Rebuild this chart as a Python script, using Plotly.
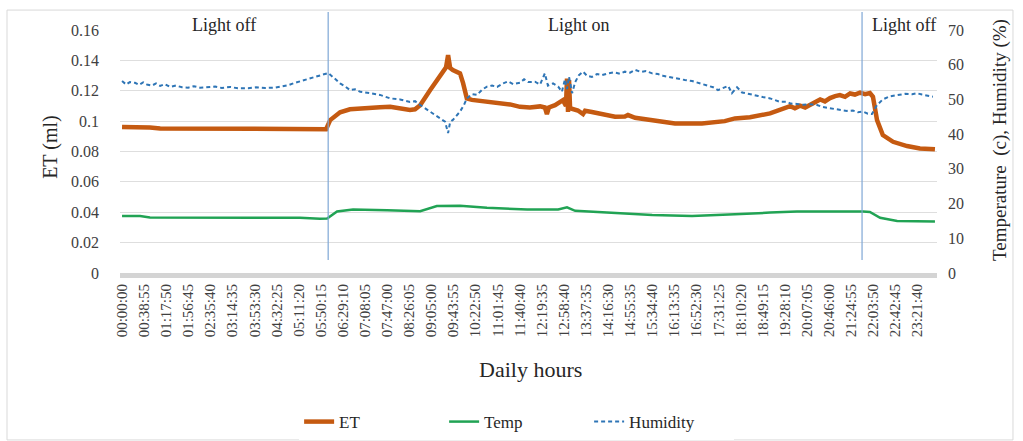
import plotly.graph_objects as go

# Tick labels on the time axis (one every 38 min 55 s of logging)
time_labels = [
    "00:00:00", "00:38:55", "01:17:50", "01:56:45", "02:35:40", "03:14:35",
    "03:53:30", "04:32:25", "05:11:20", "05:50:15", "06:29:10", "07:08:05",
    "07:47:00", "08:26:05", "09:05:00", "09:43:55", "10:22:50", "11:01:45",
    "11:40:40", "12:19:35", "12:58:40", "13:37:35", "14:16:30", "14:55:35",
    "15:34:40", "16:13:35", "16:52:30", "17:31:25", "18:10:20", "18:49:15",
    "19:28:10", "20:07:05", "20:46:00", "21:24:55", "22:03:50", "22:42:45",
    "23:21:40",
]
label_step_hours = 2335 / 3600

# Evapotranspiration (ml) against hour of day
et_hours = [
    0.00, 0.38, 0.82, 1.12, 2.29, 2.73, 3.46, 4.64, 5.22, 5.66, 5.99, 6.11,
    6.25, 6.40, 6.69, 6.99, 7.28, 7.57, 7.87, 8.16, 8.45, 8.60, 8.75, 9.04,
    9.33, 9.51, 9.57, 9.63, 9.71, 9.92, 10.01, 10.12, 10.27, 10.51, 10.80,
    11.09, 11.39, 11.68, 11.97, 12.27, 12.41, 12.47, 12.53, 12.71, 12.94,
    13.03, 13.06, 13.09, 13.12, 13.15, 13.38, 13.53, 13.59, 13.79, 14.03,
    14.47, 14.76, 14.85, 15.06, 15.73, 16.23, 17.02, 17.69, 17.99, 18.43,
    19.02, 19.31, 19.61, 19.75, 19.90, 20.05, 20.19, 20.34, 20.49, 20.63,
    20.78, 20.93, 21.07, 21.22, 21.37, 21.51, 21.66, 21.81, 21.95, 22.04,
    22.16, 22.33, 22.63, 23.04, 23.42, 23.86,
]
et_ml = [
    0.0962, 0.0963, 0.0958, 0.0952, 0.0951, 0.0950, 0.0949, 0.0949, 0.0948,
    0.0946, 0.0947, 0.1007, 0.1035, 0.1058, 0.1078, 0.1085, 0.1088, 0.1091,
    0.1094, 0.1084, 0.1073, 0.1078, 0.1105, 0.1204, 0.1303, 0.1354, 0.1434,
    0.1350, 0.1336, 0.1314, 0.1250, 0.1150, 0.1140, 0.1134, 0.1128, 0.1120,
    0.1110, 0.1094, 0.1090, 0.1097, 0.1090, 0.1046, 0.1090, 0.1105, 0.1138,
    0.1100, 0.1280, 0.1060, 0.1270, 0.1085, 0.1070, 0.1046, 0.1068, 0.1060,
    0.1048, 0.1029, 0.1030, 0.1040, 0.1022, 0.1002, 0.0985, 0.0985, 0.1000,
    0.1018, 0.1025, 0.1051, 0.1073, 0.1099, 0.1085, 0.1102, 0.1090, 0.1108,
    0.1125, 0.1143, 0.1130, 0.1152, 0.1165, 0.1171, 0.1160, 0.1182, 0.1175,
    0.1188, 0.1178, 0.1185, 0.1160, 0.1007, 0.0908, 0.0864, 0.0836, 0.0820,
    0.0814,
]

# Air temperature (°C)
temp_hours = [
    0.00, 0.53, 0.82, 2.29, 5.22, 5.81, 6.02, 6.31, 6.78, 7.78, 8.54, 8.75,
    9.24, 9.92, 10.71, 11.89, 12.80, 13.06, 13.30, 14.26, 15.56, 16.73,
    17.69, 17.99, 19.02, 19.81, 21.75, 21.95, 22.25, 22.75, 23.86,
]
temp_c = [
    16.4, 16.4, 16.0, 16.0, 15.9, 15.6, 15.7, 17.7, 18.3, 18.1, 17.7, 17.8,
    19.3, 19.4, 18.8, 18.3, 18.3, 18.9, 17.9, 17.4, 16.7, 16.4,
    16.7, 16.9, 17.4, 17.7, 17.7, 17.6, 15.9, 15.0, 14.8,
]

# Relative humidity (%)
hum_hours = [
    0.00, 0.12, 0.23, 0.38, 0.50, 0.62, 0.73, 0.88, 1.00, 1.12, 1.26, 1.41,
    1.58, 1.76, 1.94, 2.11, 2.29, 2.49, 2.73, 2.93, 3.17, 3.40, 3.70, 3.93,
    4.20, 4.49, 4.70, 4.87, 5.08, 5.28, 5.52, 5.69, 5.87, 6.05, 6.22, 6.40,
    6.54, 6.69, 6.84, 6.99, 7.28, 7.57, 7.87, 8.16, 8.45, 8.60, 8.75, 8.89,
    9.04, 9.19, 9.33, 9.48, 9.57, 9.63, 9.71, 9.83, 9.92, 10.04, 10.12,
    10.27, 10.42, 10.57, 10.71, 10.86, 11.01, 11.18, 11.33, 11.48, 11.68,
    11.80, 11.92, 12.12, 12.27, 12.41, 12.50, 12.65, 12.80, 12.91, 13.00,
    13.06, 13.12, 13.21, 13.30, 13.41, 13.53, 13.65, 13.79, 13.94, 14.09,
    14.26, 14.44, 14.62, 14.76, 14.91, 15.06, 15.23, 15.38, 15.56, 15.73,
    15.88, 16.02, 16.23, 16.38, 16.52, 16.73, 16.88, 17.02, 17.20, 17.35,
    17.49, 17.64, 17.79, 17.90, 18.05, 18.20, 18.37, 18.49, 18.67, 18.84,
    19.02, 19.17, 19.31, 19.49, 19.63, 19.81, 19.99, 20.19, 20.40, 20.57,
    20.78, 20.96, 21.13, 21.28, 21.45, 21.60, 21.75, 21.89, 22.01, 22.16,
    22.33, 22.54, 22.75, 22.98, 23.19, 23.33, 23.48, 23.66, 23.80,
]
hum_pct = [
    55.3, 54.3, 55.0, 54.8, 54.2, 54.9, 54.3, 54.0, 54.6, 53.9, 54.4, 53.6,
    54.0, 53.5, 53.4, 53.8, 53.4, 53.6, 53.7, 53.3, 53.6, 53.2, 53.2, 53.5,
    53.3, 53.4, 53.8, 54.1, 54.8, 55.4, 56.0, 56.5, 57.0, 57.6, 56.2, 54.6,
    53.8, 52.7, 52.9, 52.2, 51.8, 51.3, 50.3, 50.0, 49.3, 49.5, 48.4, 47.6,
    46.5, 45.5, 44.5, 43.6, 40.3, 43.5, 44.1, 45.5, 46.5, 48.5, 50.3,
    51.5, 51.3, 52.8, 53.7, 54.0, 53.6, 54.6, 55.2, 54.4, 54.8,
    55.8, 55.0, 55.1, 54.3, 57.5, 54.0, 54.6, 53.7, 52.2, 55.8,
    53.0, 56.5, 51.8, 55.0, 57.0, 58.0, 56.8, 56.5, 57.3, 57.0,
    57.5, 57.8, 57.4, 58.0, 57.7, 58.5, 57.9, 58.2, 57.5, 57.3,
    56.8, 56.5, 56.2, 55.9, 55.6, 55.3, 54.9, 54.6, 54.0, 53.5,
    52.7, 53.3, 53.9, 51.8, 53.5, 52.0, 51.7, 51.3, 51.0, 50.6,
    50.3, 49.8, 49.3, 49.3, 48.8, 48.7, 48.5, 48.6, 48.4, 47.8,
    47.4, 47.2, 46.9, 46.7, 46.8, 46.3, 46.5, 45.9, 45.8, 48.4,
    50.0, 50.9, 51.3, 51.6, 51.5, 51.8, 51.4, 51.0, 50.8,
]

# Lighting schedule boundaries (hour of day) and period captions
light_switch_hours = [6.05, 21.72]
period_captions = ["Light off", "Light on", "Light off"]
caption_hours = [3.0, 13.4, 22.95]

SERIF = "Liberation Serif, Times New Roman, serif"
TEXT = "#262626"

fig = go.Figure()
fig.add_trace(go.Scatter(
    x=et_hours, y=et_ml, name="ET", mode="lines",
    line=dict(color="#C55A11", width=4.5),
))
fig.add_trace(go.Scatter(
    x=temp_hours, y=temp_c, name="Temp", mode="lines", yaxis="y2",
    line=dict(color="#21A354", width=2.5),
))
fig.add_trace(go.Scatter(
    x=hum_hours, y=hum_pct, name="Humidity", mode="lines", yaxis="y2",
    line=dict(color="#2E75B6", width=2, dash="4px,3px"),
))

shapes = []
for h in light_switch_hours:
    shapes.append(dict(
        type="line", xref="x", yref="paper", x0=h, x1=h, y0=0.053, y1=1.074,
        line=dict(color="#7FA7D6", width=1.2), layer="above",
    ))
# outer chart frame
shapes.append(dict(
    type="rect", xref="paper", yref="paper",
    x0=-0.1383, x1=1.093, y0=-0.687, y1=1.082,
    line=dict(color="#d9d9d9", width=1), layer="below",
))

annotations = []
for txt, h in zip(period_captions, caption_hours):
    annotations.append(dict(
        text=txt, x=h, y=1.02, xref="x", yref="paper", showarrow=False,
        font=dict(family=SERIF, size=18, color=TEXT),
        xanchor="center", yanchor="middle",
    ))
annotations += [
    dict(text="Daily hours", x=0.502, y=-0.399, xref="paper", yref="paper",
         showarrow=False, font=dict(family=SERIF, size=22, color=TEXT),
         xanchor="center", yanchor="middle"),
    dict(text="ET (ml)", x=-0.0845, y=0.519, xref="paper", yref="paper",
         showarrow=False, textangle=-90,
         font=dict(family=SERIF, size=20, color=TEXT),
         xanchor="center", yanchor="middle"),
    dict(text="Temperature  (c), Humidity (%)", x=1.077, y=0.547,
         xref="paper", yref="paper", showarrow=False, textangle=-90,
         font=dict(family=SERIF, size=19, color=TEXT),
         xanchor="center", yanchor="middle"),
]

fig.update_layout(
    width=1023, height=441,
    margin=dict(l=120, r=86, t=30, b=168),
    paper_bgcolor="white", plot_bgcolor="white",
    showlegend=True,
    legend=dict(
        orientation="h", xref="container", yref="container",
        x=0.505, y=0.043, xanchor="center", yanchor="middle",
        font=dict(family=SERIF, size=17, color=TEXT),
        entrywidth=100,
    ),
    xaxis=dict(
        range=[-0.06, 23.92],
        tickmode="array",
        tickvals=[k * label_step_hours for k in range(len(time_labels))],
        ticktext=time_labels,
        tickangle=-90,
        tickfont=dict(family=SERIF, size=15, color="#404040"),
        showgrid=False, zeroline=False,
        showline=True, linecolor="#d4d4d4", linewidth=5,
        ticks="", automargin=False,
    ),
    yaxis=dict(
        range=[0, 0.16], dtick=0.02, tick0=0,
        showgrid=True, gridcolor="#dedede", gridwidth=1,
        zeroline=False, showline=False, ticks="",
        tickfont=dict(family=SERIF, size=16, color="#404040"),
        ticklabelstandoff=20, automargin=False,
    ),
    yaxis2=dict(
        range=[0, 70], dtick=10, tick0=0,
        overlaying="y", side="right",
        showgrid=False, zeroline=False, showline=False, ticks="",
        tickfont=dict(family=SERIF, size=16, color="#404040"),
        ticklabelstandoff=10, automargin=False,
    ),
    shapes=shapes,
    annotations=annotations,
)

fig.write_html("out.html")
